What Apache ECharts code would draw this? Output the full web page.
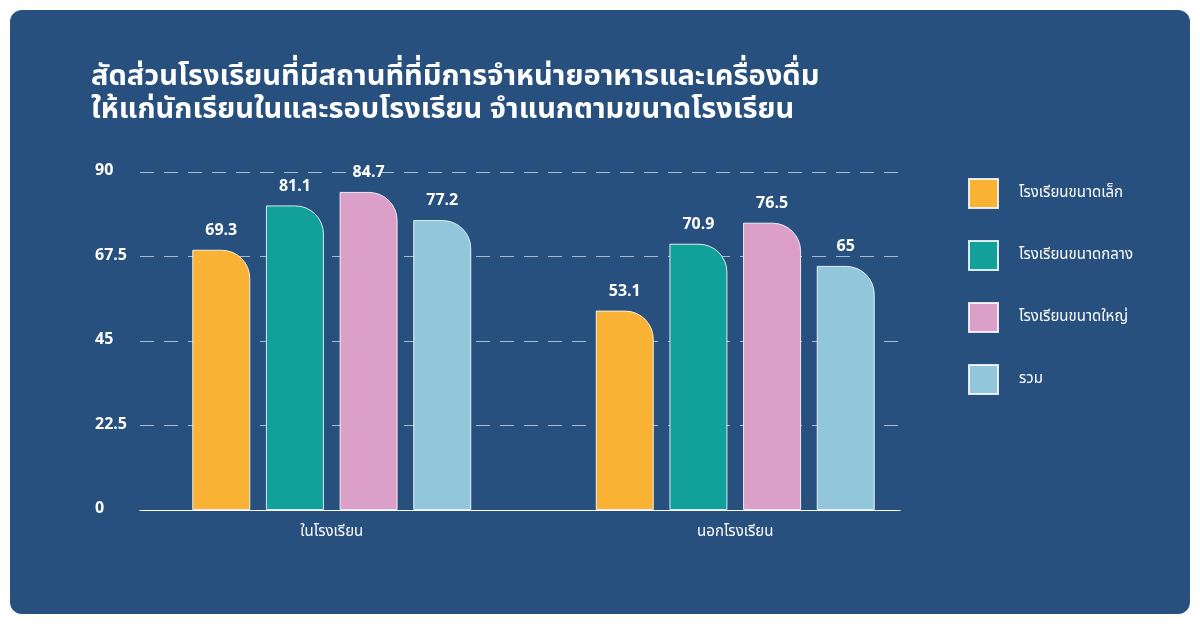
<!DOCTYPE html>
<html>
<head>
  <meta charset="utf-8">
  <title>สัดส่วนโรงเรียน</title>
  <script src="https://cdn.jsdelivr.net/npm/echarts@6/dist/echarts.min.js"></script>
  <style>
    html, body { margin: 0; padding: 0; background: #ffffff; }
    #box {
      position: absolute; left: 10px; top: 10px; width: 1180px; height: 604px;
      background: #28507f; border-radius: 12px;
    }
    #main { position: absolute; left: -10px; top: -10px; width: 1200px; height: 624px; }
  </style>
</head>
<body>
<div id="box"><div id="main"></div></div>
<script>
  // ข้อมูล
  var categories = ['ในโรงเรียน', 'นอกโรงเรียน'];
  var seriesNames = ['โรงเรียนขนาดเล็ก', 'โรงเรียนขนาดกลาง', 'โรงเรียนขนาดใหญ่', 'รวม'];
  var smallSchool = [69.3, 53.1];
  var mediumSchool = [81.1, 70.9];
  var largeSchool = [84.7, 76.5];
  var total = [77.2, 65];
  var colors = ['#f9b233', '#11a09a', '#dca0c8', '#92c7db'];

  var fontFam = '"Noto Sans Thai", "Noto Sans", "DejaVu Sans", sans-serif';
  var values = [smallSchool, mediumSchool, largeSchool, total];

  var series = values.map(function (v, i) {
    return {
      name: seriesNames[i],
      type: 'bar',
      xAxisIndex: 1,
      yAxisIndex: 1,
      data: v,
      barWidth: 58,
      barGap: '27%',
      itemStyle: {
        color: colors[i],
        borderColor: 'rgba(255,255,255,0.85)',
        borderWidth: 1,
        borderRadius: [0, 28, 0, 0]
      },
      label: {
        show: true,
        position: 'top',
        distance: 10,
        color: '#ffffff',
        fontSize: 16,
        fontWeight: 'bold',
        fontFamily: fontFam
      }
    };
  });

  var myChart = echarts.init(document.getElementById('main'));
  myChart.setOption({
    backgroundColor: 'transparent',
    textStyle: { fontFamily: fontFam },
    title: {
      text: 'สัดส่วนโรงเรียนที่มีสถานที่ที่มีการจำหน่ายอาหารและเครื่องดื่ม\nให้แก่นักเรียนในและรอบโรงเรียน จำแนกตามขนาดโรงเรียน',
      left: 86,
      top: 58,
      textStyle: {
        color: '#ffffff',
        fontSize: 29,
        fontWeight: 'bold',
        lineHeight: 33,
        fontFamily: fontFam
      }
    },
    legend: {
      orient: 'vertical',
      left: 963,
      top: 173,
      itemWidth: 29,
      itemHeight: 29,
      itemGap: 31,
      icon: 'rect',
      textStyle: { color: '#ffffff', fontSize: 15, padding: [0, 0, 0, 16], fontFamily: fontFam },
      data: seriesNames
    },
    // grid 0: เส้นแกนและเส้นประ, grid 1: แท่งกราฟ
    grid: [
      { left: 140, right: 300, top: 172, bottom: 114 },
      { left: 130, right: 263, top: 172, bottom: 114 }
    ],
    xAxis: [
      {
        type: 'category',
        gridIndex: 0,
        data: categories,
        axisLine: { lineStyle: { color: '#ffffff', width: 1 } },
        axisTick: { show: false },
        axisLabel: { show: false }
      },
      {
        type: 'category',
        gridIndex: 1,
        data: categories,
        axisLine: { show: false },
        axisTick: { show: false },
        axisLabel: { color: '#ffffff', fontSize: 15, margin: 15, fontFamily: fontFam }
      }
    ],
    yAxis: [
      {
        type: 'value',
        gridIndex: 0,
        min: 0,
        max: 90,
        interval: 22.5,
        axisLine: { show: false },
        axisTick: { show: false },
        axisLabel: {
          color: '#ffffff', fontSize: 16, fontWeight: 'bold',
          align: 'left', margin: 45, padding: [7, 0, 0, 0], fontFamily: fontFam
        },
        splitLine: {
          lineStyle: { color: 'rgba(255,255,255,0.6)', type: [14, 10], width: 1 }
        }
      },
      {
        type: 'value',
        gridIndex: 1,
        min: 0,
        max: 90,
        interval: 22.5,
        axisLine: { show: false },
        axisTick: { show: false },
        axisLabel: { show: false },
        splitLine: { show: false }
      }
    ],
    series: series
  });
</script>
</body>
</html>
